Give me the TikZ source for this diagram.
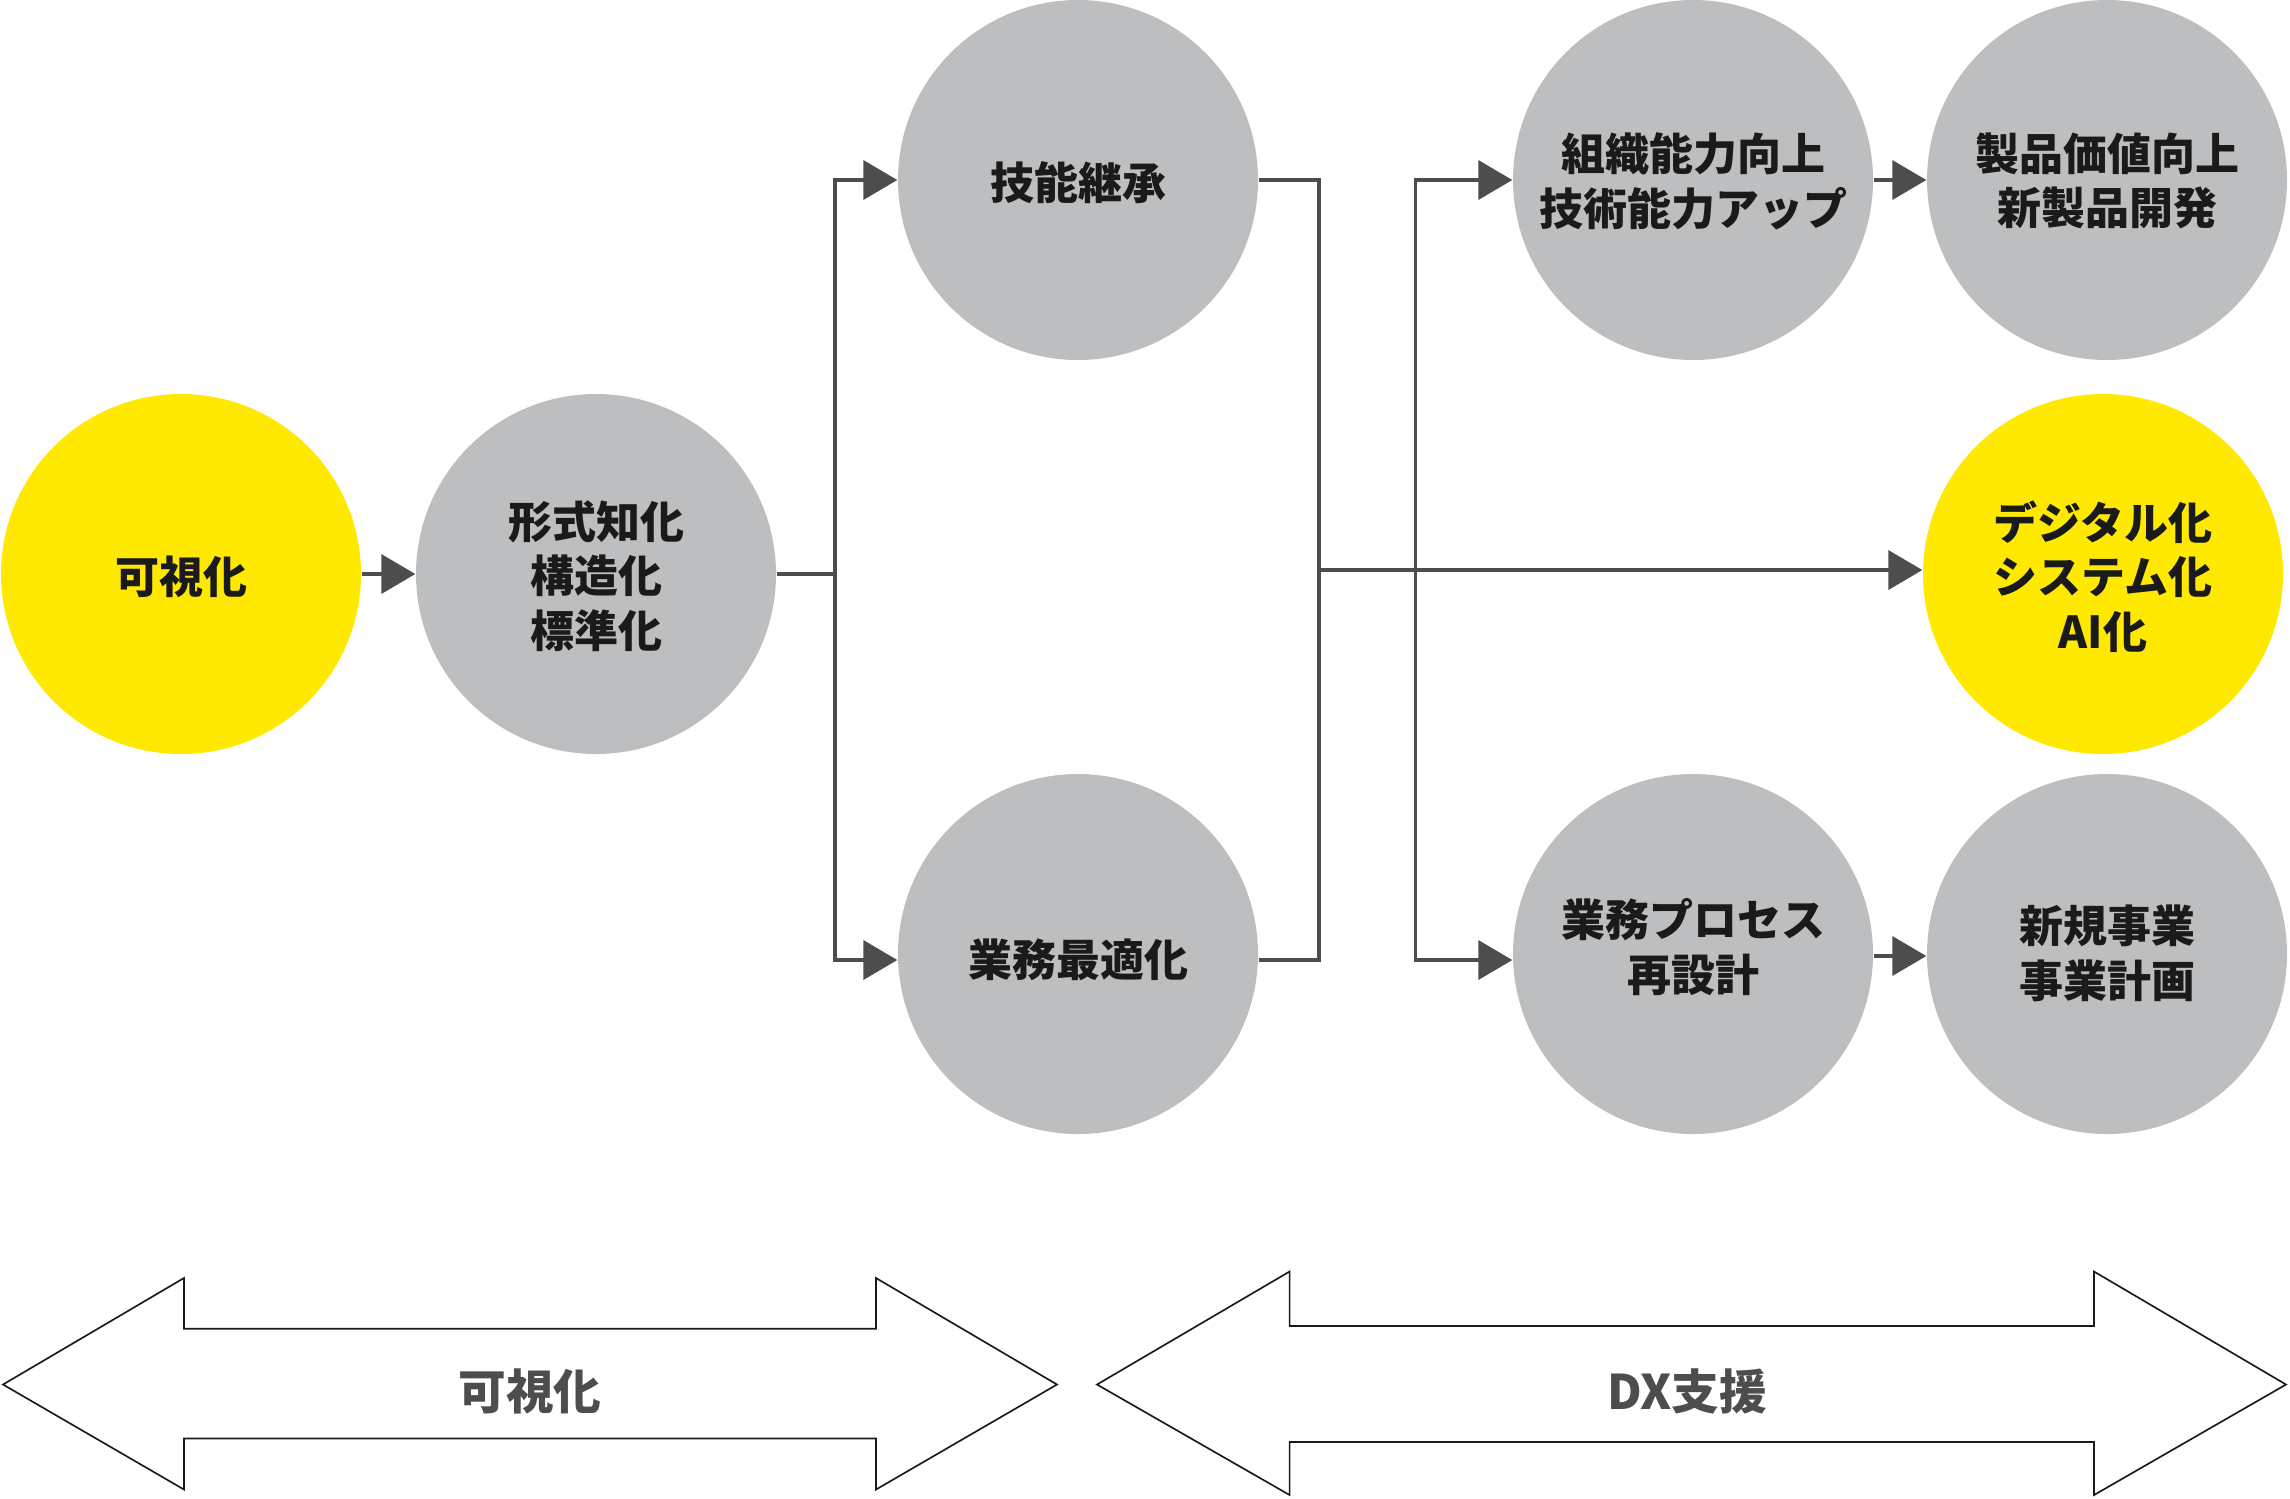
\documentclass[tikz,border=0pt]{standalone}
\usepackage{fontspec}
\newfontfamily\jp{Noto Sans CJK JP}
\usetikzlibrary{arrows.meta}
\definecolor{cgray}{HTML}{BCBEC0}
\definecolor{cyellow}{HTML}{FFE900}
\definecolor{cline}{HTML}{4D4D4D}
\definecolor{ctext}{HTML}{1A1A1A}
\begin{document}
\begin{tikzpicture}[x=0.3pt,y=-0.3pt,
  bubble/.style={circle,minimum size=108pt,inner sep=0pt},
  grayb/.style={bubble,fill=cgray},
  yellowb/.style={bubble,fill=cyellow},
  txt/.style={align=center,inner sep=0pt,
    font=\jp\bfseries\fontsize{13.2pt}{16.4pt}\selectfont,text=ctext},
  conn/.style={draw=cline,line width=1.1pt,line join=miter},
  arr/.style={conn,-{Triangle[length=10.2pt,width=11.7pt]}},
  darrow/.style={draw=ctext,line width=0.5pt,fill=white,line join=miter},
  lab/.style={font=\jp\bfseries\fontsize{14.3pt}{17pt}\selectfont,text=cline,inner sep=0pt}]
\useasboundingbox (0,0) rectangle (2290,1498);
% circles
\node[yellowb] (A) at (181,574) {};
\node[grayb] (B) at (596,574) {};
\node[grayb] (C) at (1078,180) {};
\node[grayb] (D) at (1078,954) {};
\node[grayb] (E) at (1693,180) {};
\node[grayb] (F) at (2107,180) {};
\node[yellowb] (G) at (2103,574) {};
\node[grayb] (H) at (1693,954) {};
\node[grayb] (I) at (2107,954) {};
% texts
\node[txt] (At) at (181,577) {可視化};
\node[txt] (Bt) at (596,576) {形式知化\\構造化\\標準化};
\node[txt] (Ct) at (1078,182.5) {技能継承};
\node[txt] (Dt) at (1078,959.5) {業務最適化};
\node[txt] (Et) at (1693,181) {組織能力向上\\技術能力アップ};
\node[txt] (Ft) at (2107,181) {製品価値向上\\新製品開発};
\node[txt] (Gt) at (2103,576.5) {デジタル化\\システム化\\AI化};
\node[txt] (Ht) at (1693,947) {業務プロセス\\再設計};
\node[txt] (It) at (2107,953) {新規事業\\事業計画};
% junctions
\coordinate (j1) at (835,574);
\coordinate (j2) at (1319,570);
\coordinate (j3) at (1415.5,570);
% connectors
\draw[arr] (A.east) -- (B.west);
\draw[conn] (B.east) -- (j1);
\draw[arr] (j1) |- (C.west);
\draw[arr] (j1) |- ([yshift=-1.8pt]D.west);
\draw[conn] (C.east) -| (j2);
\draw[conn] ([yshift=-1.8pt]D.east) -| (j2);
\draw[arr] (j2) -- ([yshift=1.2pt]G.west);
\draw[arr] (j3) |- (E.west);
\draw[arr] (j3) |- ([yshift=-1.8pt]H.west);
\draw[arr] (E.east) -- (F.west);
\draw[arr] ([yshift=-0.6pt]H.east) -- ([yshift=-0.6pt]I.west);
% bottom double arrows
\draw[darrow] (3,1384.5) -- (184,1278) -- (184,1328.7) -- (876,1328.7) -- (876,1278)
  -- (1057,1384.5) -- (876,1489.5) -- (876,1438.5) -- (184,1438.5) -- (184,1489.5) -- cycle;
\draw[darrow] (1097,1384.5) -- (1289.6,1271.5) -- (1289.6,1326) -- (2094,1326) -- (2094,1271.5)
  -- (2286,1384.5) -- (2094,1495) -- (2094,1442) -- (1289.6,1442) -- (1289.6,1495) -- cycle;
\node[lab] (L1) at (530,1391) {可視化};
\node[lab] (L2) at (1687,1391) {DX支援};
\end{tikzpicture}
\end{document}
